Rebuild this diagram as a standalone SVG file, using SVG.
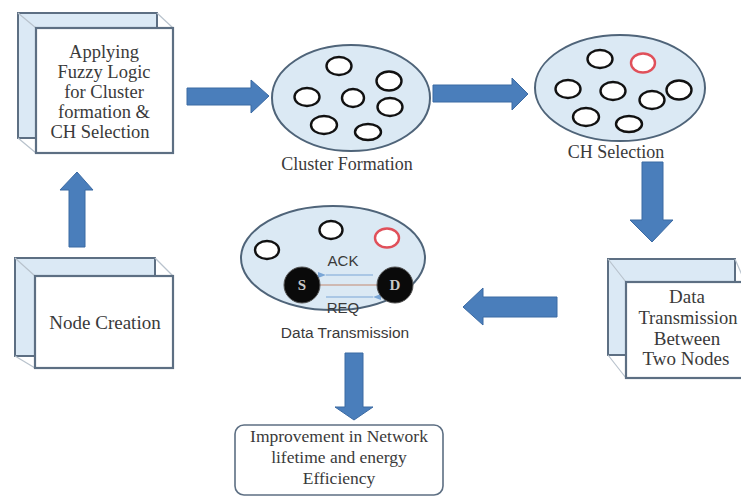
<svg xmlns="http://www.w3.org/2000/svg" width="741" height="496" viewBox="0 0 741 496">
  <defs>
    <style>
      .back { fill: #dbe9f5; stroke: #5d6f83; stroke-width: 2; }
      .front { fill: #ffffff; stroke: #5d6f83; stroke-width: 2.2; }
      .edge { stroke: #b8c2cc; stroke-width: 1.2; fill: none; }
      .serif { font-family: "Liberation Serif", "Times New Roman", serif; fill: #3a3a3a; text-anchor: middle; }
      .sans { font-family: "Liberation Sans", Arial, sans-serif; fill: #3a3a3a; text-anchor: middle; }
      .cluster { fill: #dbe9f4; stroke: #4f6479; stroke-width: 2; }
      .node { fill: #ffffff; stroke: #111111; stroke-width: 2.4; }
      .head { fill: #ffffff; stroke: #e0505a; stroke-width: 2.4; }
      .flow { fill: #4a7ebb; stroke: #3b6aa3; stroke-width: 1; }
      .endpoint { fill: #0a0a0a; stroke: #555555; stroke-width: 1; }
      .pkt { stroke: #7aa6d6; stroke-width: 1.2; fill: none; }
    </style>
    <marker id="tipL" viewBox="0 0 8 6" refX="0" refY="3" markerWidth="8" markerHeight="6" orient="auto-start-reverse" markerUnits="userSpaceOnUse">
      <path d="M8,0 L0,3 L8,6 z" fill="#7aa6d6"/>
    </marker>
  </defs>

  <rect width="741" height="496" fill="#ffffff"/>

  <!-- process step: fuzzy logic -->
  <g id="fuzzy-logic">
    <rect class="back" x="18" y="13" width="139" height="125"/>
    <line class="edge" x1="18" y1="13" x2="36" y2="28"/>
    <line class="edge" x1="157" y1="13" x2="173" y2="28"/>
    <line class="edge" x1="18" y1="138" x2="36" y2="153"/>
    <rect class="front" x="36" y="28" width="137" height="125"/>
    <text class="serif" font-size="18.5" x="104" y="58">Applying</text>
    <text class="serif" font-size="18.5" x="104" y="78">Fuzzy Logic</text>
    <text class="serif" font-size="18.5" x="104" y="98">for Cluster</text>
    <text class="serif" font-size="18.5" x="104" y="118">formation &amp;</text>
    <text class="serif" font-size="18.5" x="100" y="138">CH Selection</text>
  </g>

  <!-- process step: node creation -->
  <g id="node-creation">
    <rect class="back" x="15" y="258" width="140" height="98"/>
    <line class="edge" x1="15" y1="258" x2="35" y2="276"/>
    <line class="edge" x1="155" y1="258" x2="173" y2="276"/>
    <line class="edge" x1="15" y1="356" x2="35" y2="368"/>
    <rect class="front" x="35" y="276" width="138" height="92"/>
    <text class="serif" font-size="19" x="105" y="329">Node Creation</text>
  </g>

  <!-- process step: data transmission between two nodes -->
  <g id="data-step">
    <rect class="back" x="608" y="259" width="127" height="96"/>
    <line class="edge" x1="608" y1="259" x2="626" y2="282"/>
    <line class="edge" x1="735" y1="259" x2="745" y2="282"/>
    <line class="edge" x1="608" y1="355" x2="626" y2="378"/>
    <rect class="front" x="626" y="282" width="125" height="96"/>
    <text class="serif" font-size="19" x="687" y="303">Data</text>
    <text class="serif" font-size="18.5" x="688" y="324">Transmission</text>
    <text class="serif" font-size="19" x="687" y="345">Between</text>
    <text class="serif" font-size="19" x="686" y="365">Two Nodes</text>
  </g>

  <!-- cluster formation -->
  <g id="cluster-formation">
    <ellipse class="cluster" cx="351" cy="98" rx="79" ry="53"/>
    <ellipse class="node" cx="339" cy="66" rx="12.5" ry="9"/>
    <ellipse class="node" cx="389" cy="81" rx="12.5" ry="9.5"/>
    <ellipse class="node" cx="307" cy="97" rx="12.5" ry="9"/>
    <ellipse class="node" cx="353" cy="98" rx="11" ry="9"/>
    <ellipse class="node" cx="390" cy="107" rx="12.5" ry="9"/>
    <ellipse class="node" cx="324" cy="125" rx="13" ry="9"/>
    <ellipse class="node" cx="368" cy="132" rx="13" ry="8"/>
    <text class="serif" font-size="18" x="347" y="170">Cluster Formation</text>
  </g>

  <!-- cluster head selection -->
  <g id="ch-selection">
    <ellipse class="cluster" cx="620" cy="88" rx="85" ry="53"/>
    <ellipse class="node" cx="600" cy="59" rx="12.5" ry="9"/>
    <ellipse class="head" cx="643" cy="63" rx="12" ry="9.5"/>
    <ellipse class="node" cx="568" cy="89" rx="12.5" ry="9"/>
    <ellipse class="node" cx="613" cy="91" rx="12.5" ry="9"/>
    <ellipse class="node" cx="652" cy="100" rx="12.5" ry="9"/>
    <ellipse class="node" cx="679" cy="90" rx="12.5" ry="9.5"/>
    <ellipse class="node" cx="586" cy="117" rx="13" ry="9"/>
    <ellipse class="node" cx="629" cy="124" rx="13" ry="8"/>
    <text class="serif" font-size="18" x="616" y="158">CH Selection</text>
  </g>

  <!-- data transmission -->
  <g id="data-transmission">
    <ellipse class="cluster" cx="333" cy="258" rx="92" ry="52"/>
    <ellipse class="node" cx="267" cy="250" rx="12" ry="9"/>
    <ellipse class="node" cx="331" cy="230" rx="11.5" ry="9"/>
    <ellipse class="head" cx="387" cy="238" rx="12" ry="9.5"/>
    <text class="sans" font-size="15" x="343" y="266">ACK</text>
    <line class="pkt" x1="373" y1="275" x2="326" y2="275" marker-end="url(#tipL)"/>
    <line x1="318" y1="285" x2="379" y2="285" stroke="#c48a70" stroke-width="1.2"/>
    <line class="pkt" x1="326" y1="297" x2="373" y2="297" marker-start="url(#tipL)" transform="rotate(180 349.5 297)"/>
    <circle class="endpoint" cx="302" cy="285" r="18"/>
    <circle class="endpoint" cx="395" cy="285" r="18"/>
    <text class="serif" font-size="15" font-weight="bold" x="302" y="290" style="fill:#c8c8c8">S</text>
    <text class="serif" font-size="15" font-weight="bold" x="395" y="290" style="fill:#c8c8c8">D</text>
    <text class="sans" font-size="15" x="343" y="313">REQ</text>
    <text class="sans" font-size="15.5" x="345" y="338">Data Transmission</text>
  </g>

  <!-- outcome -->
  <g id="outcome">
    <rect x="235" y="425" width="208" height="70" rx="9" ry="9" fill="#ffffff" stroke="#5d6f83" stroke-width="1.6"/>
    <text class="serif" font-size="17.5" x="339" y="442">Improvement in Network</text>
    <text class="serif" font-size="17.5" x="339" y="463">lifetime and energy</text>
    <text class="serif" font-size="17.5" x="339" y="484">Efficiency</text>
  </g>

  <!-- block arrows between steps -->
  <g id="connectors">
    <path class="flow" d="M69,247 L69,190 L60,190 L77,172 L93,190 L85,190 L85,247 Z"/>
    <path class="flow" d="M187,88 L251,88 L251,80 L269,96 L251,113 L251,105 L187,105 Z"/>
    <path class="flow" d="M433,85 L512,85 L512,78 L528,94 L512,110 L512,102 L433,102 Z"/>
    <path class="flow" d="M642,162 L663,162 L663,220 L673,220 L652,242 L630,220 L642,220 Z"/>
    <path class="flow" d="M557,297 L483,297 L483,288 L463,307 L483,325 L483,317 L557,317 Z"/>
    <path class="flow" d="M345,353 L363,353 L363,407 L373,407 L354,420 L335,407 L345,407 Z"/>
  </g>
</svg>
